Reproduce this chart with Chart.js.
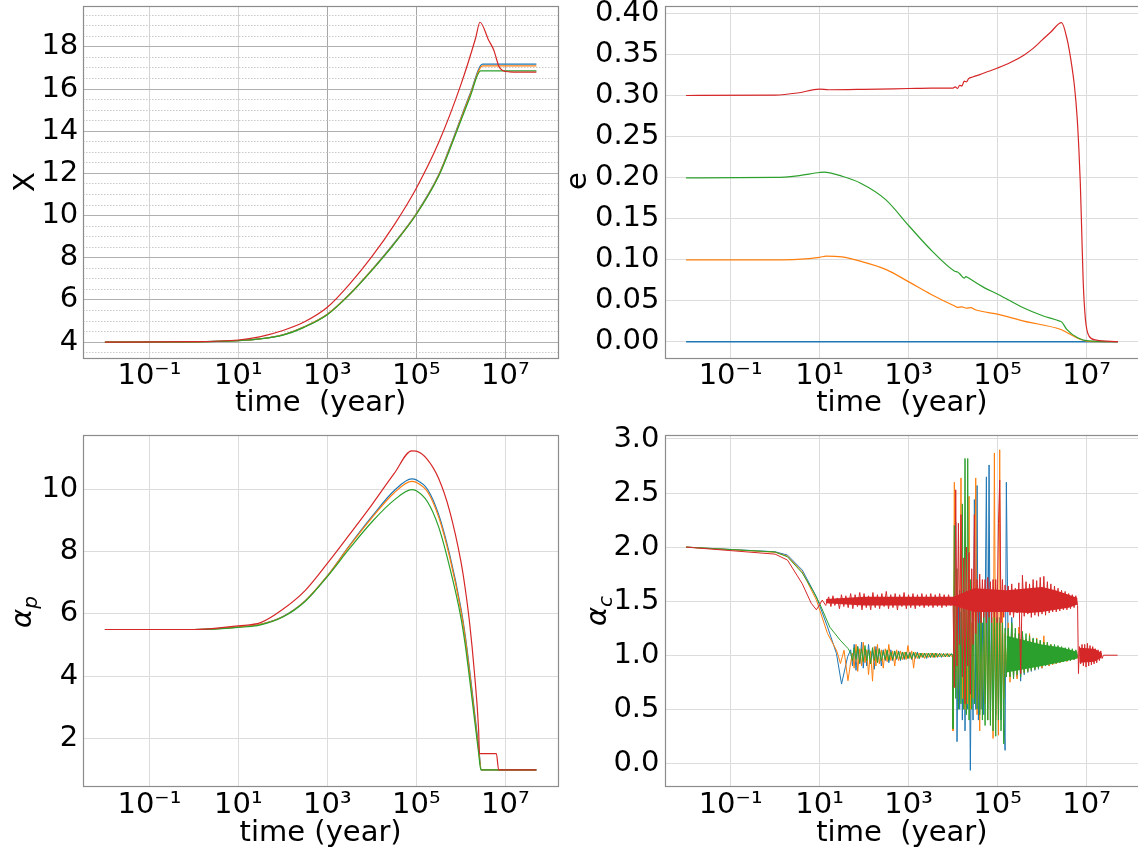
<!DOCTYPE html>
<html><head><meta charset="utf-8">
<script src="https://cdn.jsdelivr.net/npm/chart.js@4/dist/chart.umd.min.js"></script>
<style>
html,body{margin:0;padding:0;background:#fff;overflow:hidden;width:1138px;height:853px;position:relative;}
canvas{position:absolute;}
</style></head><body>
<canvas id="cX" width="569" height="420" style="left:0px;top:0px"></canvas>
<canvas id="cE" width="581" height="420" style="left:569px;top:0px"></canvas>
<canvas id="cAP" width="569" height="433" style="left:0px;top:420px"></canvas>
<canvas id="cAC" width="581" height="433" style="left:569px;top:420px"></canvas>
<script>
// ---------- shared axis data ----------
const xTickVals = [0.1, 10, 1e3, 1e5, 1e7];
const xTickLabels = ['10⁻¹', '10¹', '10³', '10⁵', '10⁷'];
const X_MIN = 3.27e-3, X_MAX = 1.53e8;

// ---------- panel 1: X ----------
const xYTicks = [3.5,4,4.5,5,5.5,6,6.5,7,7.5,8,8.5,9,9.5,10,10.5,11,11.5,12,12.5,13,13.5,14,14.5,15,15.5,16,16.5,17,17.5,18,18.5,19,19.5];
const xRedT = [0.01,1,10,30,100,300,1e3,3.16e3,1e4,3.16e4,1e5,3.16e5,1e6,2.14e6,2.7e6,4.2e6,5.5e6,6.2e6,7.1e6,8.7e6,1.23e7,5e7];
const xRed  = [4.0,4.02,4.1,4.25,4.55,4.95,5.65,6.75,8.05,9.55,11.3,13.45,16.2,18.4,19.17,18.33,17.85,17.5,17.1,16.88,16.82,16.8];
const xGreenT = [0.01,1,10,30,100,300,1e3,3.16e3,1e4,3.16e4,1e5,3.16e5,6.6e5,1e6,1.6e6,2.8e6,5e7];
const xGreen  = [4.0,4.01,4.07,4.15,4.33,4.7,5.3,6.25,7.4,8.65,10.05,11.85,13.5,14.5,15.6,16.86,16.86];
const xBlueT = [0.01,1,10,30,100,300,1e3,3.16e3,1e4,3.16e4,1e5,3.16e5,6.6e5,1e6,1.6e6,3.1e6,5e7];
const xBlue  = [4.0,4.01,4.07,4.15,4.34,4.72,5.32,6.28,7.43,8.69,10.1,11.92,13.6,14.62,15.75,17.18,17.18];
const xOrange= [4.0,4.01,4.07,4.15,4.34,4.72,5.32,6.27,7.42,8.67,10.08,11.9,13.56,14.58,15.7,17.1,17.1];

// ---------- panel 2: e ----------
const eYTicks = [0,0.05,0.10,0.15,0.20,0.25,0.30,0.35,0.40];
const eRedT = [0.01,1,3.16,10,15.8,100,1e3,3.16e3,1e4,1.12e4,1.26e4,1.41e4,1.58e4,1.78e4,2e4,2.24e4,2.75e4,3.98e4,6.3e4,1e5,2e5,3.98e5,6.3e5,1e6,1.58e6,2.75e6,3.69e6,4.46e6,5.38e6,6.14e6,6.75e6,7.26e6,7.83e6,8.45e6,9.47e6,1.14e7,1.66e7,5.1e7];
const eRed  = [0.3005,0.301,0.3035,0.3083,0.3075,0.308,0.309,0.3095,0.3095,0.311,0.309,0.313,0.312,0.318,0.317,0.321,0.323,0.326,0.330,0.334,0.341,0.350,0.358,0.368,0.378,0.3894,0.3684,0.3439,0.3112,0.2749,0.2343,0.1937,0.1328,0.0719,0.0272,0.0069,0.002,0.0];
const eGreenT = [0.01,1,3.16,10,12.6,31.6,82,306,1.04e3,3.52e3,1.09e4,1.26e4,1.41e4,1.78e4,1.95e4,2.14e4,2.34e4,5e4,1.04e5,3.8e5,1e6,2.5e6,2.8e6,3.6e6,6.5e6,1.1e7,5.1e7];
const eGreen  = [0.2,0.2005,0.2025,0.2065,0.207,0.202,0.1937,0.1734,0.1409,0.1097,0.0861,0.085,0.083,0.0775,0.0795,0.0785,0.077,0.066,0.0577,0.0414,0.032,0.0252,0.024,0.015,0.0045,0.001,0.0];
const eOrangeT = [0.01,1,3.16,10,14.1,31.6,82,316,1.04e3,3.16e3,1.09e4,1.26e4,1.58e4,2e4,2.51e4,3.16e4,1.05e5,1.58e5,3.9e5,2.75e6,4e6,6.5e6,1.1e7,5.1e7];
const eOrange  = [0.1,0.1,0.1005,0.103,0.1045,0.1035,0.0983,0.088,0.0727,0.058,0.0435,0.042,0.0425,0.041,0.0415,0.039,0.0333,0.031,0.0252,0.0146,0.01,0.004,0.0005,0.0];
const eBlueT = [0.01,5.1e7];
const eBlue  = [0,0];

// ---------- panel 3: alpha_p ----------
const apYTicks = [2,4,6,8,10];
const apRedT = [0.01,1,10,31.6,100,316,1e3,3.16e3,1e4,3.16e4,7.9e4,1e5,1.78e5,3.16e5,5.62e5,1e6,1.26e6,1.58e6,2e6,2.51e6,2.63e6,6.3e6,7.1e6,5e7];
const apRed  = [5.5,5.5,5.62,5.72,6.15,6.75,7.62,8.55,9.5,10.5,11.23,11.22,10.95,10.35,9.3,7.7,6.8,5.7,4.2,2.3,1.52,1.52,1.0,1.0];
const apT = [0.01,1,10,31.6,100,316,1e3,3.16e3,1e4,3.16e4,7.9e4,1e5,1.78e5,3.16e5,5.62e5,1e6,1.26e6,1.58e6,2e6,2.51e6,2.9e6,5e7];
const apBlue   = [5.5,5.5,5.58,5.67,5.92,6.42,7.22,8.2,9.12,9.95,10.33,10.3,10.0,9.2,7.9,6.2,5.3,4.2,2.95,1.75,1.0,1.0];
const apOrange = [5.5,5.5,5.58,5.67,5.91,6.42,7.22,8.18,9.08,9.88,10.25,10.22,9.92,9.12,7.82,6.12,5.22,4.1,2.85,1.65,1.0,1.0];
const apGreenT = [0.01,1,10,31.6,100,316,1e3,3.16e3,1e4,3.16e4,7.9e4,1e5,1.78e5,3.16e5,5.62e5,1e6,1.26e6,1.58e6,2e6,2.51e6,2.82e6,5e7];
const apGreen  = [5.5,5.5,5.57,5.65,5.9,6.4,7.2,8.1,8.95,9.65,9.99,9.95,9.6,8.8,7.5,5.9,5.0,3.9,2.7,1.55,1.0,1.0];

// ---------- panel 4: alpha_c ----------
const acYTicks = [0,0.5,1.0,1.5,2.0,2.5,3.0];
const acBlueTrendT = [0.01,1,1.9,4.1,8.5,15.1,24,31.2,42.7];
const acBlueTrend  = [2.0,1.957,1.926,1.787,1.54,1.262,1.015,0.733,0.985];
const acOrangeTrendT = [0.01,1,1.9,4.1,8.5,15.1,24,26.5,29.5,35.5,43.5];
const acOrangeTrend  = [2.0,1.952,1.917,1.77,1.51,1.2,1.046,0.99,0.923,1.046,0.764];
const acGreenTrendT = [0.01,1,1.9,4.1,7,10,17,29,44];
const acGreenTrend  = [2.0,1.955,1.91,1.76,1.6,1.48,1.26,1.14,1.06];
const acRedTrendT = [0.01,1,1.9,4.1,6.5,8.5,11.5,13.8];
const acRedTrend  = [2.0,1.935,1.88,1.66,1.48,1.42,1.51,1.46];
const acPreT = [50,55,60,66,72,80,88,96,105,115,126,140,155,170,185,200,220,245,270,300,330,360,400,440,490,540,600,660,730,800,880,970,1070,1180,1300,1430,1580,1740,1900,2100,2300,2550,2800,3100,3400,3750,4100,4500,5000,5500,6100,6700,7400,8200,9000,10000];
const acGreenPre  = [1.02,0.95,1.07,0.96,1.08,0.93,1.06,0.94,1.09,0.95,1.05,0.92,1.07,0.95,1.05,0.93,1.06,0.95,1.04,0.96,1.05,0.95,1.03,0.96,1.04,0.97,1.03,0.96,1.03,0.97,1.03,0.97,1.02,0.97,1.03,0.98,1.02,0.97,1.02,0.98,1.02,0.98,1.02,0.98,1.02,0.98,1.02,0.985,1.015,0.985,1.015,0.985,1.015,0.985,1.015,1.0];
const acBluePre   = [1.05,0.9,1.1,0.86,1.08,0.92,1.12,0.88,1.06,0.9,1.1,0.93,1.05,0.87,1.08,0.94,1.06,0.9,1.05,0.95,1.04,0.93,1.05,0.95,1.03,0.96,1.04,0.95,1.03,0.96,1.03,0.97,1.03,0.96,1.02,0.97,1.03,0.97,1.02,0.98,1.02,0.97,1.02,0.98,1.02,0.98,1.02,0.98,1.02,0.98,1.015,0.985,1.015,0.985,1.01,1.0];
const acOrangePre = [0.93,1.02,0.88,1.1,0.85,1.06,0.9,1.12,0.93,1.05,0.82,1.04,0.76,1.08,0.9,1.1,0.92,1.05,0.88,1.06,0.94,1.1,0.95,1.04,0.9,1.05,0.95,1.04,0.96,1.03,0.96,1.09,0.97,1.04,0.88,1.03,0.97,1.02,0.98,1.02,0.97,1.02,0.98,1.02,0.98,1.02,0.98,1.015,0.985,1.015,0.985,1.015,0.985,1.015,0.99,1.0];
const acRedPreT = [14,16,18,20,22,25,28,31,35,39,44,50,56,63,71,80,90,100,112,126,141,158,178,200,224,251,282,316,355,398,447,501,562,631,708,794,891,1000,1122,1259,1413,1585,1778,1995,2239,2512,2818,3162,3548,3981,4467,5012,5623,6310,7079,7943,8913,10000];
const acRedPre  = [1.47,1.54,1.45,1.55,1.46,1.53,1.43,1.56,1.45,1.55,1.44,1.57,1.43,1.56,1.45,1.58,1.42,1.57,1.44,1.55,1.42,1.58,1.44,1.56,1.43,1.57,1.45,1.59,1.43,1.56,1.44,1.57,1.42,1.56,1.45,1.58,1.43,1.56,1.44,1.57,1.43,1.56,1.45,1.57,1.44,1.56,1.45,1.57,1.44,1.56,1.45,1.57,1.44,1.56,1.45,1.56,1.46,1.5];
const acBurstT = [1.0e4,1.07e4,1.15e4,1.23e4,1.32e4,1.41e4,1.51e4,1.62e4,1.74e4,1.86e4,2.0e4,2.14e4,2.29e4,2.45e4,2.63e4,2.82e4,3.02e4,3.24e4,3.47e4,3.72e4,3.98e4,4.27e4,4.57e4,4.9e4,5.25e4,5.62e4,6.03e4,6.46e4,6.92e4,7.41e4,7.94e4,8.51e4,9.12e4,9.77e4,1.05e5,1.12e5,1.2e5,1.29e5,1.38e5,1.48e5,1.58e5];
const acGreenBurst  = [0.32,2.2,0.6,1.8,0.5,1.6,0.55,2.4,0.5,2.82,0.45,2.82,0.4,1.7,0.5,1.5,0.55,1.45,0.5,1.4,0.45,1.5,0.4,1.45,0.35,1.4,0.4,1.5,0.35,1.35,0.3,1.4,0.25,1.35,0.4,1.3,0.3,1.3,0.18,1.25,0.8];
const acOrangeBurst = [0.3,2.6,0.7,1.5,0.6,1.3,2.64,0.6,1.4,0.5,1.6,0.55,2.47,0.5,1.3,0.6,1.5,2.64,0.45,1.3,0.3,1.4,0.5,1.3,0.55,1.5,0.4,1.35,0.5,1.3,0.23,2.87,0.4,1.3,0.26,2.9,0.5,1.4,0.6,1.2,0.8];
const acBlueBurst   = [0.6,1.4,2.23,0.2,1.5,0.5,1.4,0.4,1.6,0.3,1.5,0.5,1.4,-0.065,1.3,0.4,2.44,0.5,2.57,0.4,1.4,0.5,1.3,0.45,1.3,2.65,0.5,2.76,0.4,1.3,0.5,1.4,0.45,1.3,0.5,1.35,0.4,1.3,0.5,0.12,2.6];
const acRedBurst    = [1.5,0.7,2.53,0.9,2.22,1.1,2.3,0.8,1.9,0.55,2.0,0.9,1.95,0.64,1.8,1.1,2.3,1.2,1.7,1.3,1.75,1.3,1.7,1.35,1.7,1.3,1.72,1.35,1.68,1.3,1.7,1.35,1.7,1.3,2.22,2.62,1.3,1.7,1.35,1.65,1.4];
const acPostT = [1.74e5,1.91e5,2.09e5,2.29e5,2.51e5,2.75e5,3.02e5,3.31e5,3.63e5,3.98e5,4.37e5,4.79e5,5.25e5,5.75e5,6.31e5,6.92e5,7.59e5,8.32e5,9.12e5,1.0e6,1.1e6,1.2e6,1.32e6,1.45e6,1.58e6,1.74e6,1.91e6,2.09e6,2.29e6,2.51e6,2.75e6,3.02e6,3.31e6,3.63e6,3.98e6,4.37e6,4.79e6,5.25e6,5.75e6,6.31e6];
const acGreenPost  = [1.25,0.8,1.3,0.78,1.25,0.82,1.2,0.8,1.22,0.84,1.2,0.85,1.18,0.86,1.16,0.87,1.15,0.88,1.14,0.9,1.12,0.9,1.12,0.92,1.1,0.92,1.1,0.93,1.09,0.94,1.08,0.94,1.07,0.95,1.07,0.95,1.06,0.96,1.05,0.98];
const acOrangePost = [1.3,0.75,1.28,0.8,1.2,0.78,1.26,0.82,1.2,0.84,1.15,0.85,1.2,0.86,1.14,0.87,1.16,0.88,1.13,0.88,1.18,0.9,1.12,0.9,1.1,0.91,1.08,0.92,1.08,0.93,1.07,0.94,1.06,0.94,1.06,0.95,1.05,0.96,1.04,0.97];
const acBluePost   = [1.0,0.8,1.35,0.78,1.2,0.8,1.15,0.76,1.2,0.82,1.15,0.84,1.12,0.85,1.15,0.86,1.12,0.87,1.1,0.88,1.1,0.9,1.1,0.9,1.08,0.92,1.08,0.92,1.07,0.93,1.06,0.94,1.06,0.95,1.05,0.95,1.04,0.96,1.04,0.98];
const acRedPost    = [1.64,1.37,1.66,1.35,1.62,1.39,1.67,0.83,1.74,1.36,1.68,1.38,1.66,1.35,1.7,1.37,1.69,1.36,1.72,1.38,1.73,1.37,1.68,1.39,1.66,1.4,1.64,1.4,1.62,1.41,1.6,1.42,1.59,1.42,1.57,1.43,1.56,1.44,1.55,1.46];
const acRedLateT = [6.6e6,6.92e6,7.41e6,7.94e6,8.51e6,9.12e6,9.77e6,1.05e7,1.12e7,1.2e7,1.29e7,1.38e7,1.48e7,1.58e7,1.7e7,1.82e7,1.95e7,2.09e7,2.24e7,2.4e7,5e7];
const acRedLate  = [0.83,1.08,0.92,1.1,0.9,1.1,0.89,1.11,0.9,1.09,0.91,1.08,0.92,1.06,0.93,1.05,0.95,1.04,0.97,1.0,1.0];
const acRedBandT = [14,100,1000,1e4,3e4,1.6e5,5e5,1e6,2e6,4e6,6.3e6];
const acRedBandHi = [1.52,1.54,1.54,1.54,1.62,1.6,1.62,1.63,1.6,1.56,1.53];
const acRedBandLo = [1.48,1.46,1.46,1.46,1.4,1.4,1.39,1.4,1.42,1.44,1.47];
const acRedLateBandT = [6.9e6,1.5e7,2.2e7];
const acRedLateBandHi = [1.07,1.06,1.02];
const acRedLateBandLo = [0.93,0.94,0.98];
const acGreenBandT = [1.6e5,1e6,3e6,6.3e6];
const acGreenBandHi = [1.18,1.1,1.07,1.03];
const acGreenBandLo = [0.84,0.9,0.94,0.97];

// ---------- helpers ----------
const C0 = '#1f77b4', C1 = '#ff7f0e', C2 = '#2ca02c', C3 = '#d62728';
const FS = 29;
Chart.defaults.font.family = "'DejaVu Sans', sans-serif";
Chart.defaults.color = '#000';
Chart.defaults.animation = false;
Chart.defaults.events = [];
Chart.defaults.plugins.legend.display = false;
Chart.defaults.plugins.tooltip.enabled = false;
Chart.defaults.elements.point.radius = 0;

function pts(t, v) { return t.map((x, i) => ({x: x, y: v[i]})); }
function lineDS(data, color, order, smooth, w) {
  return {data: data, borderColor: color, backgroundColor: color, order: order, fill: false,
          borderWidth: w || 1.2, cubicInterpolationMode: smooth ? 'monotone' : 'default', tension: 0};
}
function band(t, hi, lo, color, order) {
  return [
    {data: pts(t, hi), borderWidth: 0, borderColor: color, backgroundColor: color, order: order, fill: false},
    {data: pts(t, lo), borderWidth: 0, borderColor: color, backgroundColor: color, order: order, fill: '-1'}
  ];
}

const framePlugin = {
  id: 'frame',
  afterDraw(chart) {
    const a = chart.chartArea, c = chart.ctx;
    c.save(); c.strokeStyle = '#8c8c8c'; c.lineWidth = 1.2;
    c.strokeRect(Math.round(a.left) + 0.5, Math.round(a.top) + 0.5, Math.round(a.right - a.left), Math.round(a.bottom - a.top));
    c.restore();
  }
};
const ylabPlugin = {
  id: 'ylab',
  afterDraw(chart, args, o) {
    if (!o || !o.text) return;
    const c = chart.ctx;
    c.save();
    c.translate(o.x, o.y); c.rotate(-Math.PI / 2);
    c.fillStyle = '#000'; c.textBaseline = 'alphabetic'; c.textAlign = 'left';
    const f1 = (o.italic ? 'italic ' : '') + FS + 'px "DejaVu Sans"';
    const f2 = 'italic 20px "DejaVu Sans"';
    c.font = f1; const w1 = c.measureText(o.text).width;
    let w2 = 0; if (o.sub) { c.font = f2; w2 = c.measureText(o.sub).width; }
    const x0 = -(w1 + w2) / 2;
    c.font = f1; c.fillText(o.text, x0, o.base);
    if (o.sub) { c.font = f2; c.fillText(o.sub, x0 + w1, o.base + 6); }
    c.restore();
  }
};
Chart.register(framePlugin, ylabPlugin);

function xAxis(h, pad, title, tpad, gridColors) {
  return {
    type: 'logarithmic', min: X_MIN, max: X_MAX,
    afterBuildTicks: s => { s.ticks = xTickVals.map(v => ({value: v})); },
    afterFit: s => { s.height = h; s.paddingLeft = 0; s.paddingRight = 0; },
    ticks: {autoSkip: false, maxRotation: 0, minRotation: 0, padding: pad,
            font: {size: FS, lineHeight: 1}, callback: (v, i) => xTickLabels[i]},
    grid: {drawTicks: false, lineWidth: 1, color: ctx => gridColors[ctx.index] || gridColors[0]},
    border: {display: false},
    title: {display: true, text: title, font: {size: FS, lineHeight: 1}, padding: {top: 0, bottom: tpad}}
  };
}
function yAxis(min, max, ticks, w, cb, color, dash) {
  return {
    type: 'linear', min: min, max: max,
    afterBuildTicks: s => { s.ticks = ticks.map(v => ({value: v})); },
    afterFit: s => { s.width = w; s.paddingTop = 0; s.paddingBottom = 0; },
    ticks: {autoSkip: false, padding: 5, font: {size: FS, lineHeight: 1}, callback: cb},
    grid: {drawTicks: false, lineWidth: 1, color: color},
    border: {display: false, dash: dash || []}
  };
}
const lightGrid = '#dcdcdc';

// ---------- chart 1: X ----------
new Chart(document.getElementById('cX'), {
  type: 'line',
  data: {datasets: [
    lineDS(pts(xRedT, xRed), C3, 1, true),
    lineDS(pts(xGreenT, xGreen), C2, 2, true),
    lineDS(pts(xBlueT, xOrange), C1, 3, true),
    lineDS(pts(xBlueT, xBlue), C0, 4, true)
  ]},
  options: {
    responsive: false, devicePixelRatio: 1,
    layout: {padding: {top: 6, right: 11, left: 0, bottom: 0}},
    scales: {
      x: xAxis(62.3, 4, 'time  (year)', 2, ['#d4d4d4', '#d4d4d4', '#a8a8a8', '#a8a8a8', '#a8a8a8']),
      y: yAxis(3.26, 19.94, xYTicks, 83.3,
               v => (v % 2 === 0 ? String(v) : ''),
               ctx => (ctx.tick && ctx.tick.value % 2 === 0) ? '#b0b0b0' : '#c8c8c8',
               ctx => (ctx.tick && ctx.tick.value % 2 !== 0) ? [1.5, 1.5] : [])
    },
    plugins: {ylab: {text: 'X', x: 23.6, y: 182, base: 10.5}}
  }
});

// ---------- chart 2: e ----------
new Chart(document.getElementById('cE'), {
  type: 'line',
  data: {datasets: [
    lineDS(pts(eRedT, eRed), C3, 1, true),
    lineDS(pts(eGreenT, eGreen), C2, 2, true),
    lineDS(pts(eOrangeT, eOrange), C1, 3, true),
    lineDS(pts(eBlueT, eBlue), C0, 4, false, 1.5)
  ]},
  options: {
    responsive: false, devicePixelRatio: 1,
    layout: {padding: {top: 6, right: 10.8, left: 0, bottom: 0}},
    scales: {
      x: xAxis(62.3, 4, 'time  (year)', 2, [lightGrid]),
      y: yAxis(-0.0195, 0.4097, eYTicks, 95.5, v => v.toFixed(2), lightGrid)
    },
    plugins: {ylab: {text: 'e', x: 9, y: 181, base: 8}}
  }
});

// ---------- chart 3: alpha_p ----------
new Chart(document.getElementById('cAP'), {
  type: 'line',
  data: {datasets: [
    lineDS(pts(apRedT, apRed), C3, 1, true),
    lineDS(pts(apGreenT, apGreen), C2, 2, true),
    lineDS(pts(apT, apOrange), C1, 3, true),
    lineDS(pts(apT, apBlue), C0, 4, true)
  ]},
  options: {
    responsive: false, devicePixelRatio: 1,
    layout: {padding: {top: 15, right: 11, left: 0, bottom: 0}},
    scales: {
      x: xAxis(67.3, 5, 'time (year)', 5, [lightGrid]),
      y: yAxis(0.49, 11.74, apYTicks, 83.3, v => String(v), lightGrid)
    },
    plugins: {ylab: {text: 'α', sub: 'p', italic: true, x: 24, y: 192, base: 7}}
  }
});

// ---------- chart 4: alpha_c ----------
const acBlueAll = [...pts(acBlueTrendT, acBlueTrend), ...pts(acPreT, acBluePre), ...pts(acBurstT, acBlueBurst), ...pts(acPostT, acBluePost)];
const acOrangeAll = [...pts(acOrangeTrendT, acOrangeTrend), ...pts(acPreT, acOrangePre), ...pts(acBurstT, acOrangeBurst), ...pts(acPostT, acOrangePost)];
const acGreenAll = [...pts(acGreenTrendT, acGreenTrend), ...pts(acPreT, acGreenPre), ...pts(acBurstT, acGreenBurst), ...pts(acPostT, acGreenPost)];
const acRedAll = [...pts(acRedTrendT, acRedTrend), ...pts(acRedPreT, acRedPre), ...pts(acBurstT, acRedBurst), ...pts(acPostT, acRedPost), ...pts(acRedLateT, acRedLate)];

new Chart(document.getElementById('cAC'), {
  type: 'line',
  data: {datasets: [
    lineDS(acRedAll, C3, 1, false, 1),
    ...band(acRedBandT, acRedBandHi, acRedBandLo, C3, 1),
    ...band(acRedLateBandT, acRedLateBandHi, acRedLateBandLo, C3, 1),
    lineDS(acGreenAll, C2, 2, false, 1),
    ...band(acGreenBandT, acGreenBandHi, acGreenBandLo, C2, 2),
    lineDS(acOrangeAll, C1, 3, false, 1),
    lineDS(acBlueAll, C0, 4, false, 1)
  ]},
  options: {
    responsive: false, devicePixelRatio: 1,
    layout: {padding: {top: 15, right: 10.8, left: 0, bottom: 0}},
    scales: {
      x: xAxis(67.3, 5, 'time  (year)', 5, [lightGrid]),
      y: yAxis(-0.207, 3.037, acYTicks, 95.5, v => v.toFixed(1), lightGrid)
    },
    plugins: {ylab: {text: 'α', sub: 'c', italic: true, x: 30, y: 191, base: 7}}
  }
});
</script>
</body></html>
